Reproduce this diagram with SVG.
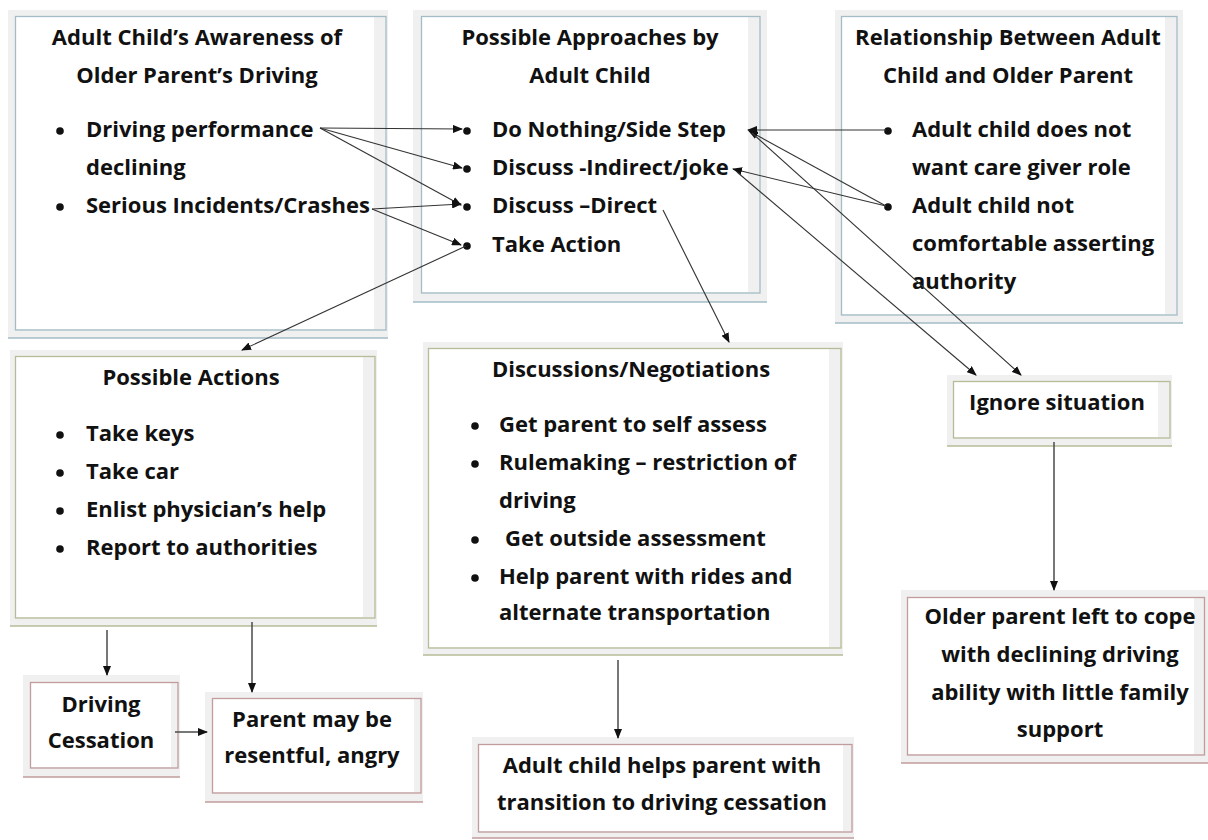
<svg xmlns="http://www.w3.org/2000/svg" width="1208" height="840" viewBox="0 0 1208 840">
<style>
.g{fill:#f0f0f0}
.w{fill:#ffffff}
.lb{fill:none;stroke:#a3bcc6;stroke-width:1.3}
.lg{fill:none;stroke:#b6bc98;stroke-width:1.3}
.lr{fill:none;stroke:#c29c9c;stroke-width:1.3}
text{font-family:"Open Sans","Liberation Sans",sans-serif;font-weight:bold;font-size:22px;fill:#111}
.c{text-anchor:middle}
.b{fill:#111}
.cn line{stroke:#333;stroke-width:1.1}
.cn .v{stroke:#555;stroke-width:1.6}
</style>
<defs>
<marker id="ah" markerWidth="10" markerHeight="8" refX="9" refY="4" orient="auto" markerUnits="userSpaceOnUse">
<path d="M0,0 L10,4 L0,8 z" fill="#111"/>
</marker>
</defs>
<rect width="1208" height="840" fill="#ffffff"/>

<g id="awareness">
<rect class="g" x="8" y="10" width="380" height="328"/>
<rect class="w" x="16" y="17" width="358" height="312"/>
<rect class="lb" x="15.5" y="16.5" width="370.5" height="313.5"/>
<line class="lb" x1="8" y1="338" x2="388" y2="338"/>
<text class="c" x="197" y="45">Adult Child’s Awareness of</text>
<text class="c" x="197" y="83">Older Parent’s Driving</text>
<circle class="b" cx="60" cy="131" r="3.8"/>
<text x="86" y="137">Driving performance</text>
<text x="86" y="175">declining</text>
<circle class="b" cx="60" cy="207" r="3.8"/>
<text x="86" y="213">Serious Incidents/Crashes</text>
</g>

<g id="approaches">
<rect class="g" x="413" y="10" width="354" height="292"/>
<rect class="w" x="422" y="17" width="326" height="275"/>
<rect class="lb" x="421.5" y="16.5" width="338.5" height="276.5"/>
<line class="lb" x1="413" y1="302" x2="767" y2="302"/>
<text class="c" x="590" y="45">Possible Approaches by</text>
<text class="c" x="590" y="83">Adult Child</text>
<circle class="b" cx="467" cy="131" r="3.8"/>
<text x="492" y="137">Do Nothing/Side Step</text>
<circle class="b" cx="467" cy="169" r="3.8"/>
<text x="492" y="175">Discuss -Indirect/joke</text>
<circle class="b" cx="467" cy="207" r="3.8"/>
<text x="492" y="213">Discuss –Direct</text>
<circle class="b" cx="467" cy="246" r="3.8"/>
<text x="492" y="252">Take Action</text>
</g>

<g id="relationship">
<rect class="g" x="835" y="10" width="348" height="313"/>
<rect class="w" x="842" y="17" width="323" height="297"/>
<rect class="lb" x="841.5" y="16.5" width="335.5" height="298.5"/>
<line class="lb" x1="835" y1="323" x2="1183" y2="323"/>
<text class="c" x="1008" y="45">Relationship Between Adult</text>
<text class="c" x="1008" y="83">Child and Older Parent</text>
<circle class="b" cx="888" cy="131" r="3.8"/>
<text x="912" y="137">Adult child does not</text>
<text x="912" y="175">want care giver role</text>
<circle class="b" cx="888" cy="207" r="3.8"/>
<text x="912" y="213">Adult child not</text>
<text x="912" y="251">comfortable asserting</text>
<text x="912" y="289">authority</text>
</g>

<g id="possible-actions">
<rect class="g" x="10" y="350" width="367" height="276"/>
<rect class="w" x="16" y="357" width="347" height="260"/>
<rect class="lg" x="15.5" y="356.5" width="359.5" height="261.5"/>
<line class="lg" x1="10" y1="626" x2="377" y2="626"/>
<text class="c" x="191" y="385">Possible Actions</text>
<circle class="b" cx="60" cy="435" r="3.8"/>
<text x="86" y="441">Take keys</text>
<circle class="b" cx="60" cy="473" r="3.8"/>
<text x="86" y="479">Take car</text>
<circle class="b" cx="60" cy="511" r="3.8"/>
<text x="86" y="517">Enlist physician’s help</text>
<circle class="b" cx="60" cy="549" r="3.8"/>
<text x="86" y="555">Report to authorities</text>
</g>

<g id="discussions">
<rect class="g" x="423" y="342" width="420" height="313"/>
<rect class="w" x="429" y="349" width="400" height="298"/>
<rect class="lg" x="428.5" y="348.5" width="412.5" height="299.5"/>
<line class="lg" x1="423" y1="655" x2="843" y2="655"/>
<text class="c" x="631" y="377">Discussions/Negotiations</text>
<circle class="b" cx="475" cy="426" r="3.8"/>
<text x="499" y="432">Get parent to self assess</text>
<circle class="b" cx="475" cy="464" r="3.8"/>
<text x="499" y="470">Rulemaking – restriction of</text>
<text x="499" y="508">driving</text>
<circle class="b" cx="475" cy="540" r="3.8"/>
<text x="505" y="546">Get outside assessment</text>
<circle class="b" cx="475" cy="578" r="3.8"/>
<text x="499" y="584">Help parent with rides and</text>
<text x="499" y="620">alternate transportation</text>
</g>

<g id="ignore">
<rect class="g" x="947" y="375" width="225" height="71"/>
<rect class="w" x="954" y="382" width="204" height="55"/>
<rect class="lg" x="953.5" y="381.5" width="216.5" height="56.5"/>
<line class="lg" x1="947" y1="446" x2="1172" y2="446"/>
<text class="c" x="1057" y="410">Ignore situation</text>
</g>

<g id="older-parent">
<rect class="g" x="901" y="590" width="307" height="173"/>
<rect class="w" x="908" y="598" width="286" height="156"/>
<rect class="lr" x="907.5" y="597.5" width="297" height="157.5"/>
<line class="lr" x1="901" y1="763" x2="1208" y2="763"/>
<text class="c" x="1060" y="624">Older parent left to cope</text>
<text class="c" x="1060" y="662">with declining driving</text>
<text class="c" x="1060" y="700">ability with little family</text>
<text class="c" x="1060" y="737">support</text>
</g>

<g id="driving-cessation">
<rect class="g" x="23" y="675" width="157" height="102"/>
<rect class="w" x="31" y="683" width="140" height="84"/>
<rect class="lr" x="30.5" y="682.5" width="147.5" height="85.5"/>
<line class="lr" x1="23" y1="777" x2="180" y2="777"/>
<text class="c" x="101" y="712">Driving</text>
<text class="c" x="101" y="748">Cessation</text>
</g>

<g id="resentful">
<rect class="g" x="205" y="692" width="218" height="110"/>
<rect class="w" x="213" y="699" width="201" height="93"/>
<rect class="lr" x="212.5" y="698.5" width="208.5" height="94.5"/>
<line class="lr" x1="205" y1="802" x2="423" y2="802"/>
<text class="c" x="312" y="727">Parent may be</text>
<text class="c" x="312" y="763">resentful, angry</text>
</g>

<g id="transition">
<rect class="g" x="472" y="737" width="382" height="101"/>
<rect class="w" x="479" y="745" width="364" height="86"/>
<rect class="lr" x="478.5" y="744.5" width="373.5" height="87.5"/>
<line class="lr" x1="472" y1="838" x2="854" y2="838"/>
<text class="c" x="662" y="773">Adult child helps parent with</text>
<text class="c" x="662" y="810">transition to driving cessation</text>
</g>

<g id="connectors" class="cn">
<line x1="320" y1="128" x2="462" y2="129" marker-end="url(#ah)"/>
<line x1="320" y1="128" x2="462" y2="168" marker-end="url(#ah)"/>
<line x1="320" y1="128" x2="461" y2="205" marker-end="url(#ah)"/>
<line x1="372" y1="209" x2="461" y2="204" marker-end="url(#ah)"/>
<line x1="372" y1="209" x2="461" y2="245" marker-end="url(#ah)"/>
<line x1="466" y1="246" x2="242" y2="350" marker-end="url(#ah)"/>
<line x1="663" y1="210" x2="729" y2="342" marker-end="url(#ah)"/>
<line x1="886" y1="130" x2="748" y2="130" marker-end="url(#ah)"/>
<line x1="886" y1="206" x2="749" y2="131" marker-end="url(#ah)"/>
<line x1="886" y1="206" x2="733" y2="169" marker-end="url(#ah)"/>
<line x1="752" y1="133" x2="1021" y2="375" marker-end="url(#ah)"/>
<line x1="737" y1="172" x2="976" y2="375" marker-end="url(#ah)"/>
<line class="v" x1="107" y1="630" x2="107" y2="675" marker-end="url(#ah)"/>
<line class="v" x1="252" y1="622" x2="252" y2="692" marker-end="url(#ah)"/>
<line class="v" x1="175" y1="732" x2="207" y2="732" marker-end="url(#ah)"/>
<line class="v" x1="618" y1="660" x2="618" y2="738" marker-end="url(#ah)"/>
<line class="v" x1="1054" y1="442" x2="1054" y2="590" marker-end="url(#ah)"/>
</g>
</svg>
